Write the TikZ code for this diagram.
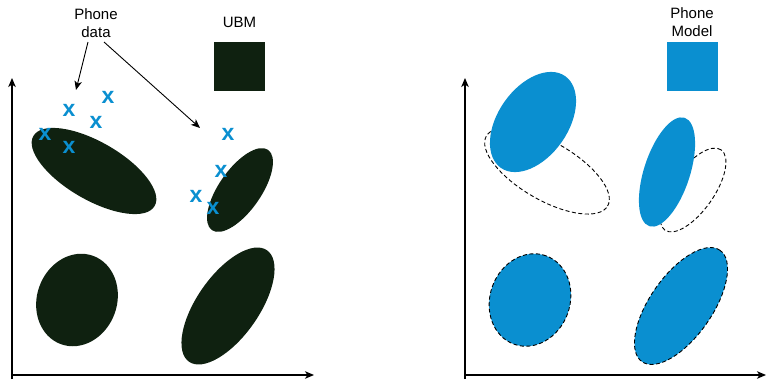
\documentclass[tikz,border=0pt]{standalone}
\usepackage{fontspec}
\setmainfont{Liberation Sans}
\usetikzlibrary{arrows.meta}
\definecolor{ubmgreen}{HTML}{0F2110}
\definecolor{phoneblue}{HTML}{0A8FD0}

\begin{document}
\begin{tikzpicture}[x=1pt,y=-1pt,
  axis/.style={line width=1.1pt,-{Stealth[length=9pt,width=7.5pt,inset=2.5pt]}},
  pointer/.style={line width=0.9pt,-{Stealth[length=9pt,width=7.5pt,inset=2.5pt]}},
  label/.style={font=\fontsize{15}{18}\selectfont,align=center,inner sep=0pt},
  sample/.style={text=phoneblue,font=\fontsize{23}{23}\selectfont\bfseries,inner sep=0pt},
  keybox/.style={minimum width=51pt,minimum height=49pt,inner sep=0pt},
  outline/.style={line width=0.9pt,dash pattern=on 4pt off 2.5pt}]
\useasboundingbox (0,0) rectangle (766,380);

% ---------- left panel: UBM ----------
\coordinate (lo) at (12,375);
\coordinate (ly) at (12,78);
\coordinate (lx) at (314,375);
\draw[axis] (12,379) -- (ly);
\draw[axis] (lo) -- (lx);

\fill[ubmgreen] (94,171) ellipse [x radius=70pt,y radius=29pt,rotate=-30];
\fill[ubmgreen] (240,190) ellipse [x radius=49pt,y radius=21pt,rotate=55];
\fill[ubmgreen] (77,300) ellipse [x radius=47pt,y radius=40pt,rotate=70];
\fill[ubmgreen] (228,306) ellipse [x radius=68pt,y radius=31pt,rotate=55];

\node[keybox,fill=ubmgreen] (ubmbox) at (239.5,66.5) {};
\node[label] (ubmlabel) at (239.5,22) {UBM};

\node[label] (datalabel) at (96,23) {Phone\\data};
\coordinate (t1) at (76,90);
\coordinate (t2) at (200,128);
\draw[pointer] (88,42) -- (t1);
\draw[pointer] (104,42) -- (t2);

\node[sample] (s1) at (69,110) {x};
\node[sample] (s2) at (108,97) {x};
\node[sample] (s3) at (96,122) {x};
\node[sample] (s4) at (45,134) {x};
\node[sample] (s5) at (69,147) {x};
\node[sample] (s6) at (228,134) {x};
\node[sample] (s7) at (221,171) {x};
\node[sample] (s8) at (196,196) {x};
\node[sample] (s9) at (213,208) {x};

% ---------- right panel: adapted phone model ----------
\coordinate (ro) at (465,375);
\coordinate (ry) at (465,78);
\coordinate (rx) at (766,375);
\draw[axis] (465,379) -- (ry);
\draw[axis] (ro) -- (rx);

\draw[outline] (547,171) ellipse [x radius=70pt,y radius=29pt,rotate=-30];
\draw[outline] (693,190) ellipse [x radius=49pt,y radius=21pt,rotate=55];
\fill[phoneblue] (533,122) ellipse [x radius=56pt,y radius=35pt,rotate=55];
\fill[phoneblue] (667,172) ellipse [x radius=57pt,y radius=23pt,rotate=72];

\filldraw[fill=phoneblue,outline] (530,300) ellipse [x radius=47pt,y radius=40pt,rotate=70];
\filldraw[fill=phoneblue,outline] (681,306) ellipse [x radius=68pt,y radius=31pt,rotate=55];

\node[keybox,fill=phoneblue] (phonebox) at (692,66.5) {};
\node[label] (phonelabel) at (692,22.5) {Phone\\Model};
\end{tikzpicture}
\end{document}
